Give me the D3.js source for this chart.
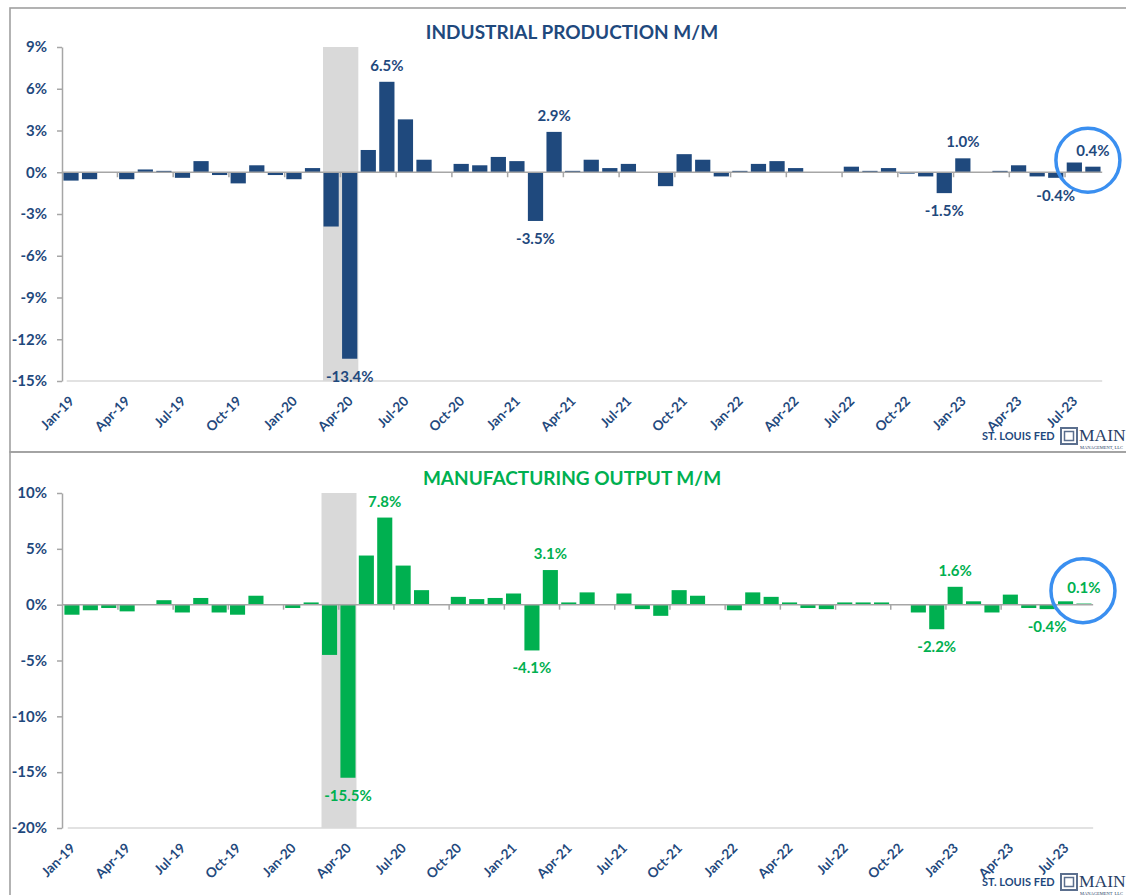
<!DOCTYPE html>
<html>
<head>
<meta charset="utf-8">
<script src="https://cdn.jsdelivr.net/npm/d3@7/dist/d3.min.js"></script>
<style>
  html, body { margin: 0; padding: 0; background: #fff; overflow: hidden; }
  svg { display: block; font-family: Lato, "Open Sans", sans-serif; }
</style>
</head>
<body>
<svg id="chart" width="1126" height="895"></svg>
<script>
// Monthly categories, Jan 2019 through Aug 2023
const months = [
  "Jan-19","Feb-19","Mar-19","Apr-19","May-19","Jun-19","Jul-19","Aug-19","Sep-19","Oct-19","Nov-19","Dec-19",
  "Jan-20","Feb-20","Mar-20","Apr-20","May-20","Jun-20","Jul-20","Aug-20","Sep-20","Oct-20","Nov-20","Dec-20",
  "Jan-21","Feb-21","Mar-21","Apr-21","May-21","Jun-21","Jul-21","Aug-21","Sep-21","Oct-21","Nov-21","Dec-21",
  "Jan-22","Feb-22","Mar-22","Apr-22","May-22","Jun-22","Jul-22","Aug-22","Sep-22","Oct-22","Nov-22","Dec-22",
  "Jan-23","Feb-23","Mar-23","Apr-23","May-23","Jun-23","Jul-23","Aug-23"
];

// Industrial production, month-over-month % change
const industrialProduction = [
  -0.6, -0.5, 0.0, -0.5, 0.2, 0.1, -0.4, 0.8, -0.2, -0.8, 0.5, -0.2,
  -0.5, 0.3, -3.9, -13.4, 1.6, 6.5, 3.8, 0.9, 0.0, 0.6, 0.5, 1.1,
  0.8, -3.5, 2.9, 0.1, 0.9, 0.3, 0.6, 0.0, -1.0, 1.3, 0.9, -0.3,
  0.1, 0.6, 0.8, 0.3, 0.0, 0.0, 0.4, 0.1, 0.3, -0.1, -0.3, -1.5,
  1.0, 0.0, 0.1, 0.5, -0.3, -0.4, 0.7, 0.4
];

// Manufacturing output, month-over-month % change
const manufacturingOutput = [
  -0.9, -0.5, -0.3, -0.6, 0.0, 0.4, -0.7, 0.6, -0.7, -0.9, 0.8, 0.0,
  -0.3, 0.2, -4.5, -15.5, 4.4, 7.8, 3.5, 1.3, 0.0, 0.7, 0.5, 0.6,
  1.0, -4.1, 3.1, 0.2, 1.1, 0.0, 1.0, -0.4, -1.0, 1.3, 0.8, 0.0,
  -0.5, 1.1, 0.7, 0.2, -0.3, -0.4, 0.2, 0.2, 0.2, 0.0, -0.7, -2.2,
  1.6, 0.3, -0.7, 0.9, -0.3, -0.4, 0.3, 0.1
];

const ipTicks = [-15, -12, -9, -6, -3, 0, 3, 6, 9];
const mfgTicks = [-20, -15, -10, -5, 0, 5, 10];

// Months whose bars carry a value label
const labelledMonths = ["Apr-20", "Jun-20", "Feb-21", "Mar-21", "Dec-22", "Jan-23", "Jun-23", "Aug-23"];
// Shaded recession months
const recessionMonths = ["Mar-20", "Apr-20"];
// Month highlighted with a ring
const highlightMonth = "Aug-23";

const svg = d3.select("#chart");
const AXIS_TEXT = "#1f497d";
const AXIS_LINE = "#a6a6a6";

// Panel frames
svg.append("rect").attr("x", 10).attr("y", 8).attr("width", 1140).attr("height", 444)
  .attr("fill", "none").attr("stroke", "#a0a0a0").attr("stroke-width", 1.6);
svg.append("rect").attr("x", 10).attr("y", 452).attr("width", 1140).attr("height", 460)
  .attr("fill", "none").attr("stroke", "#a0a0a0").attr("stroke-width", 1.6);

function drawPanel(cfg) {
  const g = svg.append("g");
  const x = d3.scaleBand().domain(months).range([cfg.x0, cfg.x1])
    .paddingInner(0.18).paddingOuter(0.09);
  const y = d3.scaleLinear().domain(cfg.domain).range([cfg.yBottom, cfg.yTop]);
  const step = x.step();
  const gapHalf = step * x.paddingInner() / 2;
  const data = months.map((m, i) => ({ m, v: cfg.values[i] }));

  // recession shading
  const sx0 = x(recessionMonths[0]) - 0.5;
  const sx1 = x(recessionMonths[1]) + x.bandwidth() + 1;
  g.append("rect")
    .attr("x", sx0)
    .attr("y", y(cfg.domain[1]))
    .attr("width", sx1 - sx0)
    .attr("height", y(cfg.domain[0]) - y(cfg.domain[1]))
    .attr("fill", "#d9d9d9");

  // plot-area bottom edge
  g.append("line")
    .attr("x1", cfg.x0 + 5).attr("x2", cfg.x1)
    .attr("y1", y(cfg.domain[0])).attr("y2", y(cfg.domain[0]))
    .attr("stroke", "#d9d9d9").attr("stroke-width", 1.5);

  // bars
  g.selectAll("rect.bar").data(data).join("rect")
    .attr("class", "bar")
    .attr("x", d => x(d.m))
    .attr("width", x.bandwidth())
    .attr("y", d => y(Math.max(0, d.v)))
    .attr("height", d => Math.abs(y(d.v) - y(0)))
    .attr("fill", cfg.color);

  // category axis along zero, ticks every quarter at band boundaries
  const zy = y(0);
  g.append("line")
    .attr("x1", cfg.x0).attr("x2", cfg.x1).attr("y1", zy).attr("y2", zy)
    .attr("stroke", AXIS_LINE).attr("stroke-width", 1.5);
  const quarterMonths = months.filter((m, i) => i % 3 === 0 && i > 0);
  g.selectAll("line.qtick").data(quarterMonths).join("line")
    .attr("class", "qtick")
    .attr("x1", d => x(d) - gapHalf).attr("x2", d => x(d) - gapHalf)
    .attr("y1", zy).attr("y2", zy + 5)
    .attr("stroke", AXIS_LINE).attr("stroke-width", 1.5);

  // value axis
  const yAxis = g.append("g")
    .attr("transform", `translate(${cfg.axisX},0)`)
    .call(d3.axisLeft(y).tickValues(cfg.ticks).tickSize(5).tickSizeOuter(0)
      .tickPadding(10).tickFormat(d => d + "%"));
  yAxis.select(".domain").attr("stroke", AXIS_LINE).attr("stroke-width", 1.5);
  yAxis.selectAll(".tick line").attr("stroke", AXIS_LINE).attr("stroke-width", 1.5);
  yAxis.selectAll(".tick text")
    .attr("fill", AXIS_TEXT).attr("font-size", 15).attr("font-weight", 700)
    .attr("font-family", "Lato, sans-serif");

  // rotated month labels under the plot
  const labelMonths = months.filter((m, i) => i % 3 === 0);
  g.selectAll("text.xlab").data(labelMonths).join("text")
    .attr("class", "xlab")
    .attr("transform", d => `translate(${x(d) + x.bandwidth() / 2 + 4},${y(cfg.domain[0]) + 21}) rotate(-45)`)
    .attr("text-anchor", "end")
    .attr("fill", AXIS_TEXT).attr("font-size", 13.5).attr("font-weight", 700)
    .text(d => d);

  // value labels
  const lab = data.filter(d => labelledMonths.includes(d.m));
  g.selectAll("text.vlab").data(lab).join("text")
    .attr("class", "vlab")
    .attr("x", d => x(d.m) + x.bandwidth() / 2)
    .attr("y", d => d.v >= 0 ? y(d.v) - 11 : y(d.v) + 23)
    .attr("text-anchor", "middle")
    .attr("fill", cfg.labelColor).attr("font-size", 15).attr("font-weight", 700)
    .text(d => d.v.toFixed(1) + "%");

  // title
  g.append("text")
    .attr("x", cfg.titleX).attr("y", cfg.titleY)
    .attr("text-anchor", "middle")
    .attr("fill", cfg.titleColor).attr("font-size", 19).attr("font-weight", 700)
    .text(cfg.title);

  // highlight ring around the latest reading
  g.append("circle")
    .attr("cx", x(highlightMonth) + x.bandwidth() / 2 + cfg.ringDx)
    .attr("cy", y(0) + cfg.ringDy)
    .attr("r", 32)
    .attr("fill", "none").attr("stroke", "#3a8ff0").attr("stroke-width", 3.5);

  // source / logo footer
  const f = g.append("g").attr("transform", `translate(0,${cfg.footerY})`);
  f.append("text").attr("x", 982).attr("y", 4)
    .attr("fill", AXIS_TEXT).attr("font-size", 11).attr("font-weight", 700)
    .text("ST. LOUIS FED");
  f.append("rect").attr("x", 1061).attr("y", -8).attr("width", 16).attr("height", 16)
    .attr("fill", "none").attr("stroke", "#5b6f8e").attr("stroke-width", 2);
  f.append("rect").attr("x", 1064.5).attr("y", -4.5).attr("width", 9).attr("height", 9)
    .attr("fill", "none").attr("stroke", "#5b6f8e").attr("stroke-width", 1.5);
  f.append("text").attr("x", 1079).attr("y", 5)
    .attr("fill", "#2a3f66").attr("font-size", 17.5)
    .attr("font-family", "'Liberation Serif', 'DejaVu Serif', serif")
    .text("MAIN");
  f.append("text").attr("x", 1080).attr("y", 13)
    .attr("fill", "#2a3f66").attr("font-size", 4.5)
    .attr("font-family", "'Liberation Serif', serif")
    .text("MANAGEMENT, LLC");
}

drawPanel({
  values: industrialProduction,
  domain: [-15, 9], ticks: ipTicks,
  x0: 61.7, x1: 1102.2, yTop: 47, yBottom: 381, axisX: 62,
  color: "#1f497d", labelColor: "#1f497d",
  title: "INDUSTRIAL PRODUCTION M/M", titleColor: "#1f497d", titleX: 572, titleY: 39,
  ringDx: -5, ringDy: -12, footerY: 436
});

drawPanel({
  values: manufacturingOutput,
  domain: [-20, 10], ticks: mfgTicks,
  x0: 62.75, x1: 1093.15, yTop: 493, yBottom: 828, axisX: 62,
  color: "#00b050", labelColor: "#00b050",
  title: "MANUFACTURING OUTPUT M/M", titleColor: "#00b050", titleX: 572, titleY: 485,
  ringDx: -1, ringDy: -14, footerY: 882
});
</script>
</body>
</html>
